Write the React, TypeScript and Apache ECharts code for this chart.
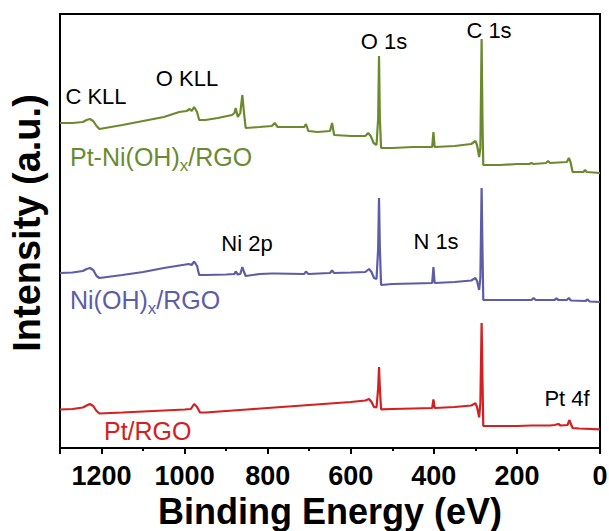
import React, { useEffect, useRef } from "react";
import * as echarts from "echarts";

// Binding energy (eV), intensity (a.u., stacked offsets as plotted)
const ptNiRGO: [number, number][] = [
  [1300, 325], [1270, 325], [1245, 326], [1236, 328], [1228, 329], [1220, 327], [1212, 322], [1205, 319],
  [1150, 323], [1100, 327], [1050, 331], [1013, 336], [995, 337], [988, 339], [983, 337], [977, 341],
  [970, 336], [965, 328], [950, 328], [920, 330], [886, 333], [880, 335], [877, 340], [872, 331],
  [866, 335], [861, 353], [857, 335], [853, 320], [820, 321], [790, 322], [783, 325], [776, 321],
  [740, 321], [712, 321], [708, 324], [702, 317], [680, 316], [650, 317], [645, 325], [640, 313],
  [600, 312], [565, 312], [558, 315], [552, 312], [545, 305], [538, 303], [534, 330], [532, 392],
  [530, 330], [527, 300], [500, 300], [450, 301], [404, 301], [401, 316], [398, 301], [350, 302],
  [310, 304], [300, 307], [296, 303], [291, 291], [288, 300], [285, 409], [283, 330], [281, 283],
  [240, 283], [200, 284], [170, 284], [165, 285], [160, 284], [130, 285], [125, 287], [120, 285],
  [80, 286], [75, 290], [71, 286], [66, 276], [50, 276], [40, 276], [36, 278], [32, 276], [0, 275],
];

const niRGO: [number, number][] = [
  [1300, 175], [1270, 175.5], [1245, 177], [1236, 179], [1228, 180], [1220, 178], [1212, 172], [1205, 170],
  [1150, 173], [1100, 176], [1050, 180], [1005, 183], [990, 184], [983, 183], [977, 186.5], [970, 182],
  [965, 173], [950, 173], [900, 173.5], [880, 174], [877, 176.5], [872, 173.5], [866, 174], [861, 181],
  [857, 176], [853, 172], [820, 174], [790, 174.5], [780, 174.5], [712, 174], [708, 176.5], [702, 174],
  [650, 175], [645, 177.5], [640, 175], [600, 175.5], [565, 176], [556, 179], [550, 176], [544, 170],
  [538, 169], [534, 200], [532, 250], [530, 200], [527, 163], [500, 164], [450, 164.5], [404, 165],
  [401, 181], [398, 165], [350, 166], [310, 167.5], [300, 170], [296, 167], [291, 158], [288, 170],
  [285, 260], [283, 200], [281, 148], [240, 148], [200, 148], [165, 148], [160, 150], [155, 148],
  [110, 148], [105, 149.5], [100, 148], [80, 148], [75, 150], [70, 147.5], [35, 147], [30, 148.5],
  [25, 146.5], [0, 146],
];

const ptRGO: [number, number][] = [
  [1300, 38.5], [1270, 39], [1245, 40.5], [1236, 42.5], [1228, 44], [1220, 42], [1212, 37], [1205, 34.5],
  [1150, 35.5], [1100, 36.5], [1050, 37.5], [1000, 38.5], [985, 39], [977, 44], [970, 41], [963, 35.5],
  [950, 35.5], [900, 37], [850, 38.5], [800, 40], [750, 41.5], [700, 43], [650, 44.5], [600, 46],
  [565, 47.5], [556, 49], [550, 46], [544, 41], [538, 40.5], [534, 60], [532, 81], [530, 60],
  [527, 38.7], [500, 39], [450, 39.5], [404, 40], [401, 48.7], [398, 40], [350, 41], [310, 42.5],
  [300, 44.7], [296, 41], [291, 30.7], [288, 45], [285, 125], [283, 70], [281, 22], [240, 22],
  [200, 22], [165, 22.5], [120, 22.5], [110, 23], [100, 24], [95, 22.5], [78, 23], [74, 28],
  [70, 24], [66, 20], [50, 19.5], [0, 18.7],
];

const seriesNames = ["Pt-Ni(OH)x/RGO", "Ni(OH)x/RGO", "Pt/RGO"];
const seriesColors = ["#6b8a2e", "#5c5ca8", "#d42020"];

const FONT = "'Liberation Sans', Arial, Helvetica, sans-serif";

export default function App() {
  const ref = useRef<HTMLDivElement>(null);

  useEffect(() => {
    const chart = echarts.init(ref.current!, null, { renderer: "svg" });
    const peakText = (text: string, x: number, y: number) => ({
      type: "text",
      x,
      y,
      silent: true,
      style: {
        text,
        fontSize: 22,
        fontFamily: FONT,
        fill: "#000",
        align: "center",
        verticalAlign: "middle",
      },
    });
    const sampleText = (text: string, x: number, y: number, color: string) => ({
      type: "text",
      x,
      y,
      silent: true,
      style: {
        text,
        fontSize: 25,
        lineHeight: 34,
        fontFamily: FONT,
        fill: color,
        align: "left",
        verticalAlign: "middle",
        rich: {
          sub: {
            fontSize: 17,
            lineHeight: 17,
            fontFamily: FONT,
            fill: color,
            verticalAlign: "bottom",
          },
        },
      },
    });

    chart.setOption({
      animation: false,
      backgroundColor: "#fff",
      grid: {
        left: 60,
        right: 9,
        top: 14,
        bottom: 83,
        show: true,
        borderColor: "#000",
        borderWidth: 2,
        containLabel: false,
        outerBoundsMode: "none",
      },
      xAxis: [
        {
          type: "value",
          min: 0,
          max: 1300,
          interval: 200,
          inverse: true,
          position: "bottom",
          axisLine: { show: true, onZero: false, lineStyle: { color: "#000", width: 2 } },
          axisTick: { show: true, inside: false, length: 6, lineStyle: { color: "#000", width: 2 } },
          axisLabel: {
            show: true,
            margin: 14,
            fontSize: 27,
            fontWeight: "bold",
            fontFamily: FONT,
            color: "#000",
            formatter: (v: number) => (v % 200 === 0 ? String(v) : ""),
          },
          splitLine: { show: false },
          name: "Binding Energy (eV)",
          nameLocation: "middle",
          nameGap: 44,
          nameTextStyle: { fontSize: 36, fontWeight: "bold", fontFamily: FONT, color: "#000" },
        },
        {
          type: "value",
          min: 0,
          max: 1300,
          interval: 100,
          inverse: true,
          position: "bottom",
          axisLine: { show: false, onZero: false },
          axisTick: { show: true, inside: false, length: 3, lineStyle: { color: "#000", width: 2 } },
          axisLabel: { show: false },
          splitLine: { show: false },
        },
      ],
      yAxis: {
        type: "value",
        min: 0,
        max: 434,
        axisLine: { show: true, onZero: false, lineStyle: { color: "#000", width: 2 } },
        axisTick: { show: false },
        axisLabel: { show: false },
        splitLine: { show: false },
        name: "Intensity (a.u.)",
        nameLocation: "middle",
        nameGap: 14,
        nameRotate: 90,
        nameTextStyle: {
          fontSize: 38,
          fontWeight: "bold",
          fontFamily: FONT,
          color: "#000",
          padding: [0, 0, 0, 16],
        },
      },
      series: [ptNiRGO, niRGO, ptRGO].map((data, i) => ({
        name: seriesNames[i],
        type: "line",
        xAxisIndex: 0,
        yAxisIndex: 0,
        data,
        showSymbol: false,
        symbol: "none",
        smooth: false,
        lineStyle: { color: seriesColors[i], width: 2.2 },
        itemStyle: { color: seriesColors[i] },
        z: 3,
      })),
      graphic: [
        peakText("C KLL", 96, 96),
        peakText("O KLL", 187, 78),
        peakText("O 1s", 384, 41),
        peakText("C 1s", 489, 30),
        peakText("Ni 2p", 247, 243),
        peakText("N 1s", 436, 241),
        peakText("Pt 4f", 567, 398),
        sampleText("Pt-Ni(OH){sub|x}/RGO", 70, 157, seriesColors[0]),
        sampleText("Ni(OH){sub|x}/RGO", 70, 300, seriesColors[1]),
        sampleText("Pt/RGO", 104, 431, seriesColors[2]),
      ],
    });
    return () => chart.dispose();
  }, []);

  return (
    <div
      ref={ref}
      style={{ position: "absolute", left: 0, top: 0, width: 609, height: 531 }}
    />
  );
}
